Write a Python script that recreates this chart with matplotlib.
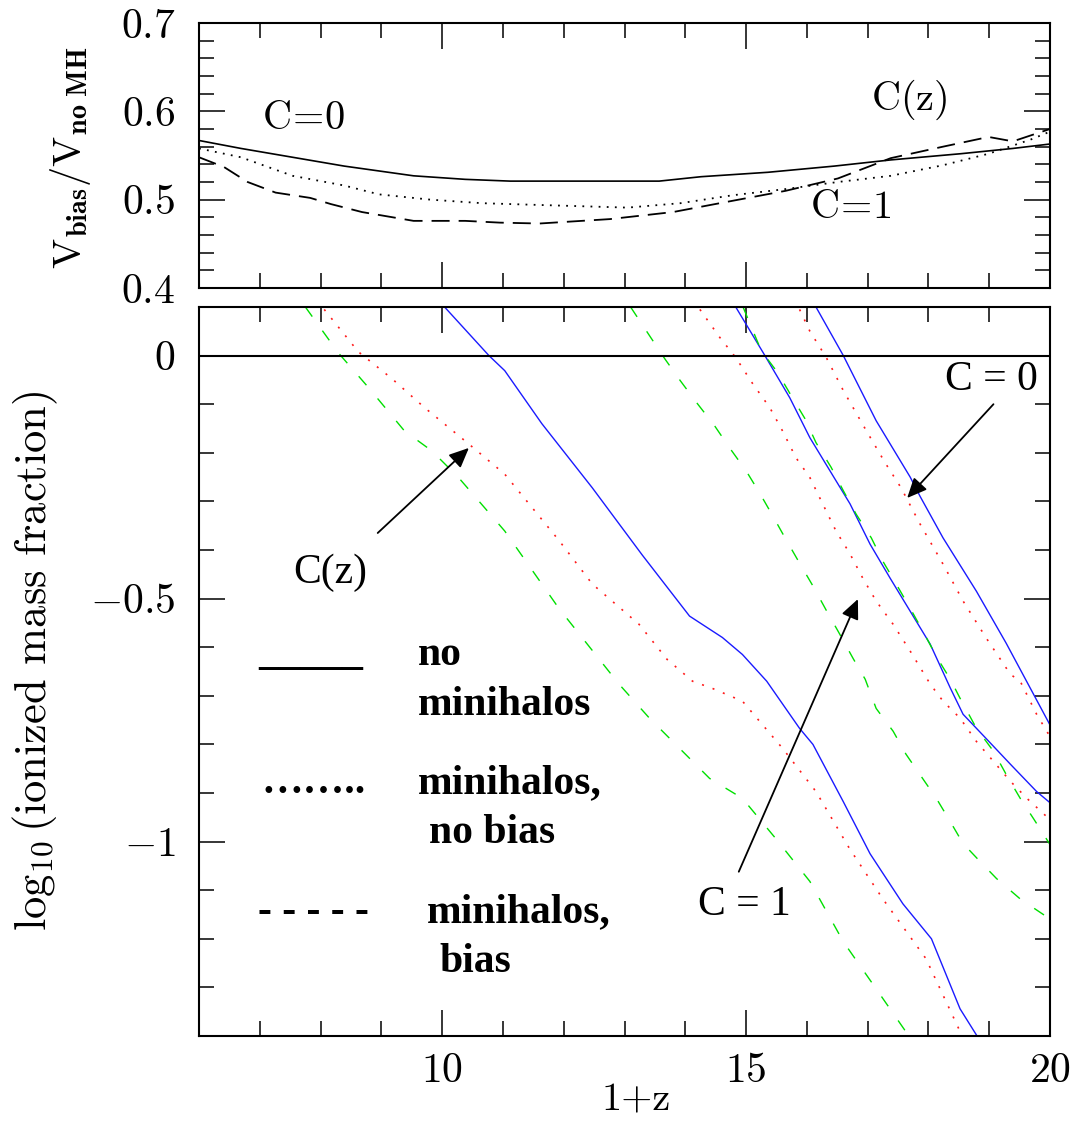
import numpy as np
import matplotlib
matplotlib.use("Agg")
import matplotlib.pyplot as plt
from matplotlib.ticker import MultipleLocator, FuncFormatter

plt.rcParams['font.family'] = 'cmr10'
plt.rcParams['mathtext.fontset'] = 'cm'
plt.rcParams['axes.formatter.use_mathtext'] = True

# ---- top panel: V_bias / V_noMH ----
vr_solid_x = [6.0, 6.69, 7.54, 8.39, 9.53, 10.38, 11.12, 12.5, 13.57, 14.26, 15.36, 16.45, 17.38, 18.53, 19.39, 20.0]
vr_solid_y = [0.567, 0.558, 0.548, 0.538, 0.527, 0.523, 0.521, 0.521, 0.521, 0.526, 0.531, 0.538, 0.545, 0.552, 0.558, 0.563]

vr_dot_x = [6.0, 6.69, 7.54, 8.39, 8.96, 9.81, 10.66, 11.6, 13.05, 13.92, 14.78, 15.65, 16.51, 17.38, 18.24, 18.99, 19.68, 20.0]
vr_dot_y = [0.558, 0.548, 0.527, 0.516, 0.506, 0.500, 0.496, 0.494, 0.491, 0.496, 0.505, 0.512, 0.520, 0.527, 0.539, 0.552, 0.568, 0.577]

vr_dash_x = [6.0, 6.41, 6.8, 7.26, 7.83, 8.17, 8.68, 9.53, 10.38, 10.95, 11.6, 12.76, 13.8, 14.49, 15.65, 16.51, 17.38, 18.24, 18.99, 19.39, 20.0]
vr_dash_y = [0.548, 0.537, 0.520, 0.508, 0.502, 0.495, 0.486, 0.476, 0.476, 0.474, 0.473, 0.478, 0.486, 0.495, 0.510, 0.524, 0.547, 0.560, 0.571, 0.566, 0.580]

# ---- bottom panel: log10 ionized mass fraction ----
# C(z)
cz_nomh_x = [10.04, 10.77, 11.03, 11.64, 12.47, 13.29, 14.07, 14.61, 14.94, 15.34, 15.88, 16.1, 16.6, 17.04, 17.58, 18.05, 18.52, 18.82]
cz_nomh_y = [0.10, 0.0, -0.031, -0.14, -0.272, -0.41, -0.536, -0.58, -0.615, -0.67, -0.767, -0.80, -0.918, -1.025, -1.128, -1.20, -1.344, -1.404]
cz_nobias_x = [8.06, 8.62, 9.17, 9.71, 10.44, 11.03, 11.92, 12.47, 13.24, 13.7, 14.12, 14.45, 14.94, 15.6, 16.15, 16.7, 17.25, 17.96, 18.57]
cz_nobias_y = [0.095, 0.008, -0.047, -0.107, -0.182, -0.244, -0.38, -0.47, -0.553, -0.625, -0.67, -0.685, -0.711, -0.808, -0.897, -1.014, -1.118, -1.241, -1.404]
cz_bias_x = [7.75, 8.29, 8.79, 9.38, 9.83, 10.27, 11.03, 11.92, 12.91, 13.41, 14.4, 14.94, 15.49, 16.05, 16.6, 17.14, 17.7]
cz_bias_y = [0.10, 0.006, -0.066, -0.155, -0.196, -0.251, -0.361, -0.52, -0.676, -0.746, -0.87, -0.911, -0.994, -1.082, -1.206, -1.303, -1.404]

# C = 1
c1_nomh_x = [14.83, 15.31, 15.72, 16.05, 16.38, 16.71, 17.04, 17.37, 17.7, 18.03, 18.36, 18.57, 18.95, 19.35, 19.78, 20.0]
c1_nomh_y = [0.10, 0.0, -0.087, -0.169, -0.237, -0.305, -0.388, -0.458, -0.526, -0.594, -0.684, -0.738, -0.788, -0.841, -0.897, -0.92]
c1_nobias_x = [14.24, 14.57, 14.83, 15.11, 15.39, 15.6, 15.82, 16.05, 16.26, 16.48, 16.71, 16.92, 17.14, 17.42, 17.7, 18.03, 18.24, 18.52, 18.79, 19.07, 19.35, 19.62, 20.0]
c1_nobias_y = [0.095, 0.037, -0.004, -0.058, -0.107, -0.155, -0.21, -0.251, -0.305, -0.361, -0.408, -0.458, -0.505, -0.553, -0.608, -0.676, -0.711, -0.746, -0.794, -0.835, -0.876, -0.911, -0.955]
c1_bias_x = [13.1, 13.38, 13.66, 13.92, 14.2, 14.48, 14.73, 15.0, 15.22, 15.44, 15.65, 15.88, 16.1, 16.31, 16.54, 16.76, 16.96, 17.14, 17.42, 17.63, 17.86, 18.13, 18.36, 18.57, 18.85, 19.12, 19.51, 19.89, 20.0]
c1_bias_y = [0.10, 0.047, -0.006, -0.052, -0.099, -0.144, -0.19, -0.237, -0.282, -0.33, -0.377, -0.427, -0.474, -0.522, -0.573, -0.623, -0.666, -0.726, -0.773, -0.82, -0.862, -0.911, -0.959, -1.004, -1.041, -1.076, -1.118, -1.15, -1.16]

# C = 0
c0_nomh_x = [16.15, 16.6, 17.14, 17.7, 17.86, 18.24, 18.79, 19.28, 20.0]
c0_nomh_y = [0.10, 0.0, -0.134, -0.25, -0.289, -0.375, -0.485, -0.592, -0.76]
c0_nobias_x = [15.88, 16.05, 16.32, 16.6, 16.98, 17.3, 17.55, 17.86, 18.24, 18.57, 18.95, 19.35, 19.51, 19.78, 20.0]
c0_nobias_y = [0.095, 0.05, -0.004, -0.072, -0.155, -0.223, -0.272, -0.346, -0.429, -0.505, -0.581, -0.656, -0.67, -0.738, -0.784]
c0_bias_x = [14.95, 15.25, 15.52, 15.74, 15.97, 16.15, 16.4, 16.6, 16.81, 17.06, 17.25, 17.47, 17.7, 17.91, 18.13, 18.36, 18.52, 18.79, 19.07, 19.28, 19.51, 19.73, 20.0]
c0_bias_y = [0.10, 0.01, -0.035, -0.082, -0.13, -0.179, -0.23, -0.278, -0.326, -0.375, -0.423, -0.47, -0.52, -0.567, -0.619, -0.666, -0.705, -0.767, -0.814, -0.862, -0.911, -0.953, -1.006]

W, H = 1089, 1121
fig = plt.figure(figsize=(W / 100, H / 100), dpi=100)
ax1 = fig.add_axes([199 / W, 1 - 288 / H, 851 / W, 265 / H])
ax2 = fig.add_axes([199 / W, 1 - 1036 / H, 851 / W, 729 / H])


def style_axes(ax):
    for s in ax.spines.values():
        s.set_linewidth(1.5)
    ax.tick_params(which='both', direction='in', top=True, right=True, width=1.1, labelsize=30)
    ax.tick_params(which='major', length=19)
    ax.tick_params(which='minor', length=11)
    ax.tick_params(axis='y', which='both', pad=17)
    ax.tick_params(axis='x', which='both', pad=12)


mfmt = FuncFormatter(lambda v, p: r'$%g$' % v)

# top panel
ax1.plot(vr_solid_x, vr_solid_y, color='k', lw=1.2)
ax1.plot(vr_dot_x, vr_dot_y, color='k', lw=1.3, dashes=(1, 3.5))
ax1.plot(vr_dash_x, vr_dash_y, color='k', lw=1.3, dashes=(10, 5))
ax1.set_xlim(6, 20)
ax1.set_ylim(0.4, 0.7)
ax1.xaxis.set_major_locator(MultipleLocator(5))
ax1.xaxis.set_minor_locator(MultipleLocator(1))
ax1.yaxis.set_major_locator(MultipleLocator(0.1))
ax1.yaxis.set_minor_locator(MultipleLocator(0.02))
ax1.yaxis.set_major_formatter(mfmt)
style_axes(ax1)
ax1.tick_params(labelbottom=False)
ax1.set_ylabel(r'$\mathrm{V}_{\mathbf{bias}}/\mathrm{V}_{\mathbf{no\ MH}}$', fontsize=29)
ax1.yaxis.set_label_coords((93 - 199) / 851, 0.494)
ax1.text(7.03, 0.580, r'$\mathrm{C\!=\!0}$', fontsize=29)
ax1.text(17.06, 0.602, r'$\mathrm{C(z)}$', fontsize=29)
ax1.text(16.05, 0.479, r'$\mathrm{C\!=\!1}$', fontsize=29)

# bottom panel
blue, red, green = '#1a1aff', '#ff1a1a', '#00e000'
for xs, ys in [(cz_nomh_x, cz_nomh_y), (c1_nomh_x, c1_nomh_y), (c0_nomh_x, c0_nomh_y)]:
    ax2.plot(xs, ys, color=blue, lw=1.0)
for xs, ys in [(cz_nobias_x, cz_nobias_y), (c1_nobias_x, c1_nobias_y), (c0_nobias_x, c0_nobias_y)]:
    ax2.plot(xs, ys, color=red, lw=1.2, dashes=(1.2, 5.5))
for xs, ys in [(cz_bias_x, cz_bias_y), (c1_bias_x, c1_bias_y), (c0_bias_x, c0_bias_y)]:
    ax2.plot(xs, ys, color=green, lw=1.0, dashes=(8.5, 12.5))
ax2.axhline(0, color='k', lw=1.5)
ax2.set_xlim(6, 20)
ax2.set_ylim(-1.4, 0.1)
ax2.xaxis.set_major_locator(MultipleLocator(5))
ax2.xaxis.set_minor_locator(MultipleLocator(1))
ax2.yaxis.set_major_locator(MultipleLocator(0.5))
ax2.yaxis.set_minor_locator(MultipleLocator(0.1))
ax2.xaxis.set_major_formatter(mfmt)
ax2.yaxis.set_major_formatter(mfmt)
style_axes(ax2)
ax2.set_xlabel('1+z', fontsize=29)
ax2.xaxis.set_label_coords((636 - 199) / 851, -0.064)
ax2.set_ylabel(r'$\log_{10}$(ionized mass fraction)', fontsize=32)
ax2.yaxis.set_label_coords((60 - 199) / 851, 0.514)

# curve labels with arrows
tfont = dict(family='Liberation Serif', fontsize=30)
arw = dict(arrowstyle='-|>,head_length=0.6,head_width=0.27', mutation_scale=20,
           lw=1.3, color='k', shrinkA=0, shrinkB=0)
ax2.text(7.55, -0.468, 'C(z)', ha='left', va='baseline', **tfont)
ax2.annotate('', xy=(10.44, -0.19), xytext=(8.94, -0.365), arrowprops=arw)
ax2.text(18.27, -0.071, 'C = 0', ha='left', va='baseline', **tfont)
ax2.annotate('', xy=(17.65, -0.293), xytext=(19.07, -0.1), arrowprops=arw)
ax2.text(14.21, -1.151, 'C = 1', ha='left', va='baseline', **tfont)
ax2.annotate('', xy=(16.84, -0.501), xytext=(14.88, -1.062), arrowprops=arw)

# hand-made key
bfont = dict(family='Liberation Serif', fontsize=30, fontweight='bold', ha='left', va='baseline')
ax2.text(6.97, -0.634, '_____', **bfont)
ax2.text(9.60, -0.636, 'no', **bfont)
ax2.text(9.60, -0.739, 'minihalos', **bfont)
ax2.text(7.03, -0.900, '\u2026\u2026..', **bfont)
ax2.text(9.60, -0.900, 'minihalos,', **bfont)
ax2.text(9.78, -1.003, 'no bias', **bfont)
ax2.text(6.97, -1.165, '- - - - -', **bfont)
ax2.text(9.75, -1.165, 'minihalos,', **bfont)
ax2.text(9.96, -1.268, 'bias', **bfont)

fig.savefig('out.png', dpi=100)
